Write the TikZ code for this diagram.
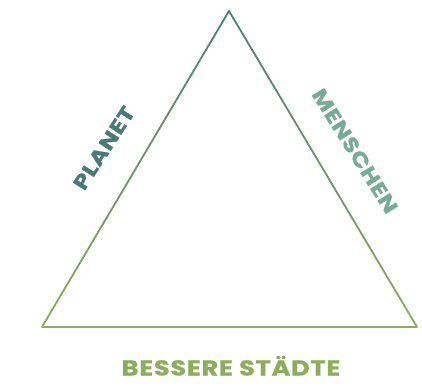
\documentclass[tikz,border=0pt]{standalone}
\usepackage{fontspec}
\setmainfont{Poppins}
\newfontfamily\labelfont{Poppins}[FakeStretch=1.2, LetterSpace=3, FakeBold=0.8]
\usepackage{xcolor}
\usepackage{tikz}
\usetikzlibrary{positioning, calc}
\definecolor{tealtop}{HTML}{4E7C7D}
\definecolor{greenbot}{HTML}{8BAD5C}
\definecolor{planetcol}{HTML}{4B7878}
\definecolor{menschcol}{HTML}{78AA98}
\tikzset{label text/.style={font=\labelfont\bfseries\fontsize{20.5}{24}\selectfont, inner sep=0pt}}

\begin{document}
\begin{tikzpicture}[x=1pt, y=-1pt]
			\useasboundingbox (0, 0) rectangle (422, 386);
			\coordinate (top) at (229, 11);
			\coordinate (bl) at (42, 327);
			\coordinate (br) at (417, 327);
			% sides shaded from teal (top) to green (bottom)
			\foreach \i in {0,...,39}{
				\pgfmathsetmacro{\pa}{\i/40}
				\pgfmathsetmacro{\pb}{(\i+1)/40}
				\pgfmathsetmacro{\pc}{100-100*(\i+0.5)/40}
				\draw [line width=1.8, line cap=round, tealtop!\pc!greenbot] ($(top)!\pa!(bl)$) -- ($(top)!\pb!(bl)$);
				\draw [line width=1.8, line cap=round, tealtop!\pc!greenbot] ($(top)!\pa!(br)$) -- ($(top)!\pb!(br)$);
			}
			\draw [line width=1.8, greenbot] (bl) -- (br);
			\node [label text, text=planetcol, rotate=57] (planet) at (104, 148) {PLANET};
			\node [label text, text=menschcol, rotate=-58] (menschen) at (355, 151) {MENSCHEN};
			\node [label text, text=greenbot, font=\labelfont\bfseries\fontsize{21.5}{24}\selectfont, anchor=base] (staedte) at (231, 375.5) {BESSERE STÄDTE};
		\end{tikzpicture}
\end{document}
